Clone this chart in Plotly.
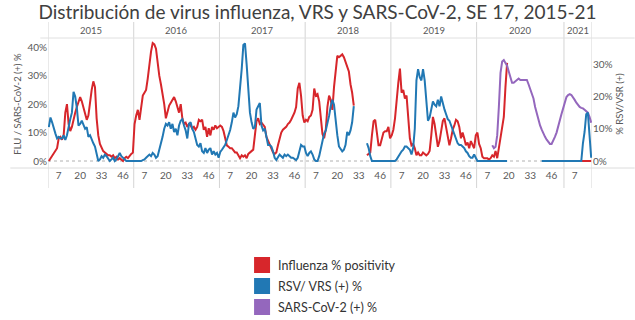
import plotly.graph_objects as go

N = None

# Epidemiological weeks shown per year (2021 up to SE 17)
years = [2015, 2016, 2017, 2018, 2019, 2020, 2021]
weeks_per_year = [52, 52, 52, 52, 52, 53, 17]
tick_weeks = [7, 20, 33, 46]

# Influenza % positivity (left axis)
flu_2015 = [0, 1, 2, 3, 3.5, 4.5, 8, 8.5, 7.5, 9, 17, 20, 13, 10.5, 12, 15, 17, 19, 21, 22.5,
            21, 19, 16.5, 14.5, 16, 21, 25, 28, 26, 15, 9, 6, 4.5, 3.5, 3, 2.5, 2, 2, 1.5, 2,
            1, 1.5, 0.5, 1, 0.5, 0, 1, 1.5, 1, 2, 2.5, 3]
flu_2016 = [13, 16, 18, 14.5, 19, 23, 24, 25, 29, 34, 38.5, 41.5, 41, 39.5, 34, 30, 27, 24, 20, 15,
            17, 19.5, 20.5, 21.5, 22.5, 21, 18.5, 17, 20, 15, 13, 13.5, 12, 13, 12.5, 11.5, 12, 11, 12, 14.5,
            14, 14.5, 11, 12, 8.5, 11.5, 9, 12, 11, 12.5, 11.5, 12]
flu_2017 = [12.5, 12, 10.5, 8, 5.5, 5, 4.5, 4.5, 3.5, 3, 3, 2, 1, 2, 1.5, 2, 1, 2.5, 3, 3.5,
            4, 9, 14, 15, 13, 13.5, 12.5, 12, 8.5, 7, 5.5, 4, 3, 2.5, 3, 5.5, 8, 10, 11, 11.5,
            12, 13, 13.5, 14.5, 15.5, 17, 19, 25.5, 27.5, 23, 16, 13.5]
flu_2018 = [14.5, 14, 15.5, 16, 18, 25.5, 23, 23.5, 21, 14, 9.5, 8, 11, 19, 23, 21.5, 18, 26, 33, 37,
            36.5, 37, 37.5, 36.5, 35, 33.5, 31.5, 27, 24, 19.5, N, N, N, N, N, N, N, 2, 2.5, 3,
            9, 14, 14.5, 10, 5.5, 5.5, 8, 10, 10.5, 10.5, 12, 8]
flu_2019 = [9, 11, 15, 23, 27.5, 32.5, 24, 25, 22, 23, 14, 8, 5.5, 6, 4.5, 2, 3, 2, 2, 3,
            2.5, 2, 2.5, 3.5, 9, 15.5, 13, 8, 5, 7, 10.5, 14, 15, 12, 8, 5.5, 8, 11, 12.5, 14.5,
            14, 12, 8, 10, 8, 5.5, 6.5, 4.5, 7, 5.5, 4.5, 9]
flu_2020 = [10, 6, 4.5, 1.5, 1, 1, 1, 0.5, 1, 2, 1.5, 3.5, 1, 4.5, 8.5, 11, 15.5, 26, 34.5] + [N] * 34
flu_2021 = [N] * 10 + [0, 0, 0, 0, 0, 0, 0]

# RSV / VRS (+) % (right axis)
rsv_2015 = [10.5, 13.5, 12, 10, 8.5, 7, 7.5, 7, 7, 8, 6.5, 8, 11, 13, 15, 21.5, 20, 16.5, 11, 11.5,
            12.5, 11, 10, 10.5, 7.5, 8, 6.5, 5.5, 4.5, 2, 0, 0.5, 1.5, 1, 2, 1.5, 0.5, 0, 0.5, 1,
            0, 0.5, 1.5, 2.5, 1.5, 1, 0.5, 0, 0, 0, 0, 0]
rsv_2016 = [0, 0, 0, 0, 0, 0.3, 0.5, 1, 1.5, 2, 1.5, 2.5, 2, 1, 1.5, 3.5, 5, 7.5, 10, 11.5,
            11, 12, 10, 11.5, 9, 10, 8, 11, 12.5, 13, 11, 9.5, 7, 11.5, 12, 10, 9, 7, 5, 4.5,
            5.5, 3, 2.5, 4, 2.5, 3.5, 4, 2, 3, 2, 2.5, 1]
rsv_2017 = [2.8, 3.5, 4.3, 5, 6.5, 8, 9.6, 12, 15, 13.5, 14.5, 17, 22, 28.5, 36, 36.5, 30, 21, 15, 12,
            10, 10.5, 16, 17, 18, 11, 9.5, 10, 7, 5, 5, 4.5, 3, 1, 0.3, 1, 2, 1.5, 1, 2,
            1.5, 2, 1.5, 1, 1, 0.5, 0.3, 1, 3, 5, 4.5, 4.5]
rsv_2018 = [2.5, 1.5, 2.5, 3, 2, 0.5, 0, 0, 1.5, 4, 7, 8.5, 9.5, 11.5, 14, 17, 19, 17.5, 12, 8,
            4.5, 3.5, 3, 3.5, 5, 9, 8, 9.5, 12, 17, N, N, N, N, N, N, N, 5.5, 4, 1.5,
            0, 0, 0, 0, 0, 0, 0, 0, 0, 0, 0, 0]
rsv_2019 = [0, 0, 0, 0.5, 1.5, 2.5, 3, 3.5, 4.5, 4.5, 4, 3.5, 2, 4, 10, 25, 28.5, 26, 25, 28.5,
            25, 18.5, 12.5, 13.5, 16.5, 18.5, 17.5, 17, 19, 17, 20, 17.5, 16, 14.5, 13, 12.5, 11, 9.5, 8, 6.5,
            5.5, 5, 5, 4.5, 4, 3, 2.5, 1.5, 1, 1, 2, 1]
rsv_2020 = [0] * 19 + [N] * 20 + [0] * 14
rsv_2021 = [0] * 11 + [5.5, 9, 14.5, 15, 8, 1]

# SARS-CoV-2 (+) % (left axis)
sars_2020 = [N] * 9 + [5.5, 4.5, 5, 9, 19, 31, 35, 35.5, 34.5, 33.5,
                       31.5, 29.5, 27.5, 27.5, 28, 28.5, 29, 28.5, 28.5, 28.5,
                       28.5, 28.5, 27, 25.5, 24, 22, 19, 16.5, 14.5, 12.5,
                       11, 9.5, 8.5, 7.5, 6.5, 6, 6, 7, 8.5, 10,
                       12.5, 14.5, 16.5, 18.5]
sars_2021 = [21, 22.5, 23.2, 23.5, 23.2, 22.5, 21.5, 20.5, 19.5, 19, 18.7, 18.5, 18, 17.5, 17, 15.5, 13.5]

series_names = ["Influenza % positivity", "RSV/ VRS (+) %", "SARS-CoV-2 (+) %"]
RED, BLUE, PURPLE = "#d7262b", "#2178b4", "#9467bd"
series_colors = [RED, BLUE, PURPLE]

flu = flu_2015 + flu_2016 + flu_2017 + flu_2018 + flu_2019 + flu_2020 + flu_2021
rsv = rsv_2015 + rsv_2016 + rsv_2017 + rsv_2018 + rsv_2019 + rsv_2020 + rsv_2021
sars = [N] * sum(weeks_per_year[:5]) + sars_2020 + sars_2021

total = sum(weeks_per_year)
x = list(range(1, total + 1))

# Week index where each year starts
starts = []
acc = 0
for n in weeks_per_year:
    starts.append(acc + 1)
    acc += n

tickvals, ticktext = [], []
for s, n in zip(starts, weeks_per_year):
    for w in tick_weeks:
        if w <= n:
            tickvals.append(s + w - 1)
            ticktext.append(str(w))

W, H = 635, 320
ML, MR, MT, MB = 47.7, 42.7, 40, 152
PW, PH = W - ML - MR, H - MT - MB


def px(X):
    return (X - ML) / PW


def py(Y):
    return (H - MB - Y) / PH


fig = go.Figure()
fig.add_trace(go.Scatter(x=x, y=flu, mode="lines", line=dict(color=RED, width=2),
                         yaxis="y", showlegend=False, hoverinfo="skip"))
fig.add_trace(go.Scatter(x=x, y=rsv, mode="lines", line=dict(color=BLUE, width=2),
                         yaxis="y2", showlegend=False, hoverinfo="skip"))
fig.add_trace(go.Scatter(x=x, y=sars, mode="lines", line=dict(color=PURPLE, width=2),
                         yaxis="y", showlegend=False, hoverinfo="skip"))

GRID = "#d4d4d4"
shapes = []
# Year separators through header and tick band
for s in starts + [total + 1]:
    shapes.append(dict(type="line", xref="x", yref="paper", x0=s - 0.5, x1=s - 0.5,
                       y0=py(188), y1=py(22), line=dict(color=GRID, width=1), layer="below"))
# Header bottom rule and axis baseline
shapes.append(dict(type="line", xref="paper", yref="paper", x0=px(40), x1=px(635),
                   y0=py(38), y1=py(38), line=dict(color="#e0e0e0", width=1)))
shapes.append(dict(type="line", xref="paper", yref="paper", x0=px(10), x1=px(635),
                   y0=py(168), y1=py(168), line=dict(color="#dcdcdc", width=1)))
# Dotted zero reference
shapes.append(dict(type="line", xref="x", yref="y", x0=0.5, x1=total + 0.5, y0=0, y1=0,
                   line=dict(color="#b0b0b0", width=1, dash="dot"), layer="below"))

annotations = []
for yr, s, n in zip(years, starts, weeks_per_year):
    annotations.append(dict(text=str(yr), xref="x", yref="paper", x=s - 0.5 + n / 2, y=py(30),
                            showarrow=False, xanchor="center", yanchor="middle",
                            font=dict(family="Lato", size=9.5, color="#595959")))

# Legend: colour squares with labels
for i, (name, col) in enumerate(zip(series_names, series_colors)):
    top = 257 + i * 21
    shapes.append(dict(type="rect", xref="paper", yref="paper", x0=px(254), x1=px(270),
                       y0=py(top + 16), y1=py(top), fillcolor=col, line=dict(width=0)))
    annotations.append(dict(text=name, xref="paper", yref="paper", x=px(276), y=py(top + 8),
                            showarrow=False, xanchor="left", yanchor="middle",
                            font=dict(family="Lato", size=12.5, color="#333333")))

fig.update_layout(
    width=W, height=H,
    margin=dict(l=ML, r=MR, t=MT, b=MB, pad=0),
    paper_bgcolor="white", plot_bgcolor="white",
    font=dict(family="Lato", color="#595959"),
    title=dict(text="Distribución de virus influenza, VRS y SARS-CoV-2, SE 17, 2015-21",
               x=0.5, xanchor="center", y=1 - 12 / H, yanchor="middle",
               font=dict(family="Lato", size=19, color="#404040", weight=400)),
    xaxis=dict(range=[0.5, total + 0.5], showgrid=False, zeroline=False, showline=False,
               tickvals=tickvals, ticktext=ticktext, ticks="",
               tickfont=dict(family="Lato", size=10, color="#595959")),
    yaxis=dict(range=[-7 / 2.843, 121 / 2.843], showgrid=False, zeroline=False,
               showline=False, tickvals=[0, 10, 20, 30, 40],
               ticktext=["0%", "10%", "20%", "30%", "40%"], ticks="",
               tickfont=dict(family="Lato", size=10, color="#595959"),
               title=dict(text="FLU / SARS-CoV-2 (+) %", standoff=4,
                          font=dict(family="Lato", size=9.5, color="#595959"))),
    yaxis2=dict(range=[-7 / 3.223, 121 / 3.223], overlaying="y", side="right",
                showgrid=False, zeroline=False, showline=False,
                tickvals=[0, 10, 20, 30], ticktext=["0%", "10%", "20%", "30%"], ticks="",
                tickfont=dict(family="Lato", size=10, color="#595959"),
                title=dict(text="% RSV/VSR (+)", standoff=4,
                           font=dict(family="Lato", size=9.5, color="#595959"))),
    shapes=shapes,
    annotations=annotations,
    showlegend=False,
)

fig.write_html("out.html")
